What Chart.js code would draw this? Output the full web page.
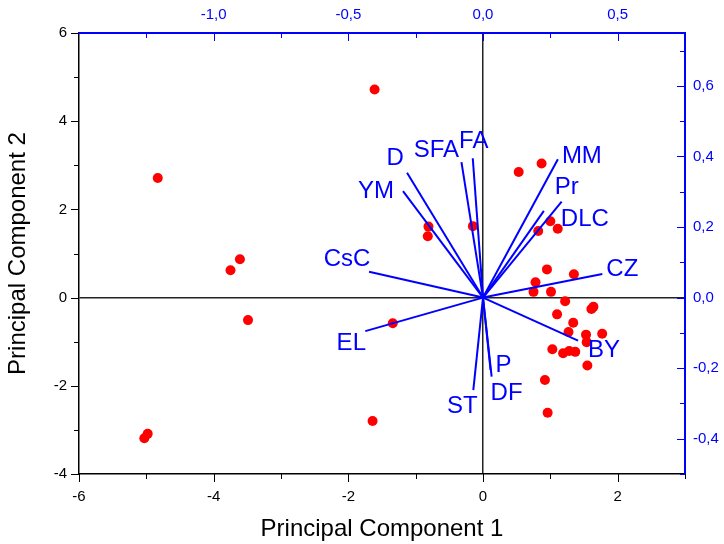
<!DOCTYPE html>
<html>
<head>
<meta charset="utf-8">
<script src="https://cdn.jsdelivr.net/npm/chart.js@4.4.1/dist/chart.umd.min.js"></script>
<style>
  html, body { margin: 0; padding: 0; background: #fff; }
</style>
</head>
<body>
<canvas id="biplot" width="724" height="544"></canvas>
<script>
// sample scores (PC1, PC2)
const pc1 = [-1.61, -4.83, -3.61, -3.75, -3.49, -1.34, -0.81, -0.82, -0.15, 0.53,
             0.87, 0.82, 1.00, 1.11, 0.95, 1.35, 0.78, 0.75, 1.01, 1.22,
             1.64, 1.61, 1.10, 1.34, 1.27, 1.53, 1.77, 1.54, 1.03, 1.19,
             1.28, 1.37, 1.55, 0.92, 0.96, -1.64, -5.03, -4.98];
const pc2 = [4.72, 2.71, 0.87, 0.62, -0.51, -0.58, 1.61, 1.39, 1.62, 2.85,
             3.04, 1.51, 1.73, 1.56, 0.64, 0.53, 0.35, 0.13, 0.13, -0.08,
             -0.21, -0.26, -0.38, -0.57, -0.78, -0.84, -0.82, -1.01, -1.17, -1.26,
             -1.21, -1.23, -1.54, -1.87, -2.61, -2.80, -3.19, -3.09];

// variable loadings (top / right axes)
const varNames = ['YM', 'D', 'SFA', 'FA', 'CsC', 'MM', 'Pr', 'DLC', 'CZ', 'BY', 'P', 'DF', 'ST', 'EL'];
const loadX = [-0.297, -0.282, -0.080, -0.038, -0.423, 0.278, 0.292, 0.226, 0.443, 0.353, 0.028, 0.032, -0.036, -0.437];
const loadY = [0.302, 0.354, 0.384, 0.395, 0.073, 0.392, 0.272, 0.246, 0.067, -0.122, -0.205, -0.224, -0.262, -0.095];

// tick labels
const pc1Ticks = [-6, -4, -2, 0, 2];
const pc2Ticks = [-4, -2, 0, 2, 4, 6];
const loadXTicks = [-1.0, -0.5, 0.0, 0.5];
const loadYTicks = [-0.4, -0.2, 0.0, 0.2, 0.4, 0.6];

const BLUE = '#0000ff';
const FONT = "'Liberation Sans', Arial, sans-serif";

// where each arrow label sits relative to its arrow tip (px)
const labelShift = {
  YM: [-27, 0], D: [-12, -14], SFA: [-25, -12], FA: [1, -17], CsC: [-22, -12],
  MM: [24, -3], Pr: [5, -14], DLC: [41, 9], CZ: [20, -5], BY: [26, 10],
  P: [13, -5], DF: [15, 17], ST: [-11, 16], EL: [-14, 12]
};

const setTicks = list => scale => { scale.ticks = list.map(v => ({ value: v })); };
const comma = v => Number(v).toFixed(1).replace('.', ',');

const vectorSets = varNames.map((name, i) => ({
  label: name,
  data: [{ x: 0, y: 0 }, { x: loadX[i], y: loadY[i] }],
  xAxisID: 'x2',
  yAxisID: 'y2',
  showLine: true,
  borderColor: BLUE,
  borderWidth: 2,
  pointRadius: 0,
  order: 0
}));

const arrowLabels = {
  id: 'arrowLabels',
  afterDatasetsDraw(chart) {
    const { ctx, scales } = chart;
    ctx.save();
    ctx.fillStyle = BLUE;
    ctx.font = '24px ' + FONT;
    ctx.textAlign = 'center';
    ctx.textBaseline = 'middle';
    varNames.forEach((name, i) => {
      const px = scales.x2.getPixelForValue(loadX[i]);
      const py = scales.y2.getPixelForValue(loadY[i]);
      const [dx, dy] = labelShift[name];
      ctx.fillText(name, px + dx, py + dy);
    });
    ctx.restore();
  }
};

// major + minor tick marks, outward on bottom/left, inward on top/right
const tickMarks = {
  id: 'tickMarks',
  afterDraw(chart) {
    const { ctx, chartArea: a, scales } = chart;
    ctx.save();
    ctx.lineWidth = 1;
    const run = (scale, from, to, step, majors, color, draw) => {
      ctx.strokeStyle = color;
      for (let v = from; v <= to + 1e-9; v += step) {
        const isMajor = majors.some(m => Math.abs(m - v) < 1e-6);
        const p = Math.round(scale.getPixelForValue(v)) + 0.5;
        draw(p, isMajor ? 8 : 5);
      }
    };
    run(scales.x, -6, 3, 1, pc1Ticks, '#000', (p, l) => {
      ctx.beginPath(); ctx.moveTo(p, a.bottom); ctx.lineTo(p, a.bottom + l); ctx.stroke();
    });
    run(scales.y, -4, 6, 1, pc2Ticks, '#000', (p, l) => {
      ctx.beginPath(); ctx.moveTo(a.left, p); ctx.lineTo(a.left - l, p); ctx.stroke();
    });
    run(scales.x2, -1.25, 0.75, 0.25, loadXTicks, BLUE, (p, l) => {
      ctx.beginPath(); ctx.moveTo(p, a.top); ctx.lineTo(p, a.top + l); ctx.stroke();
    });
    run(scales.y2, -0.5, 0.7, 0.1, loadYTicks, BLUE, (p, l) => {
      ctx.beginPath(); ctx.moveTo(a.right, p); ctx.lineTo(a.right - l, p); ctx.stroke();
    });
    ctx.restore();
  }
};

const zeroLine = ctx => (ctx.tick && ctx.tick.value === 0) ? '#222' : 'rgba(0,0,0,0)';

new Chart(document.getElementById('biplot'), {
  type: 'scatter',
  data: {
    datasets: [
      ...vectorSets,
      {
        label: 'Scores',
        data: pc1.map((x, i) => ({ x, y: pc2[i] })),
        xAxisID: 'x',
        yAxisID: 'y',
        backgroundColor: '#ff0000',
        borderWidth: 0,
        pointRadius: 5,
        order: 1
      }
    ]
  },
  options: {
    responsive: false,
    animation: false,
    devicePixelRatio: 1,
    layout: { padding: 0 },
    plugins: { legend: { display: false }, tooltip: { enabled: false } },
    scales: {
      x: {
        type: 'linear', position: 'bottom', min: -6, max: 3,
        afterBuildTicks: setTicks(pc1Ticks),
        afterFit: s => { s.height = 70; },
        grid: { color: zeroLine, lineWidth: 1.5, drawTicks: false },
        border: { color: '#000', width: 1.5 },
        ticks: { color: '#000', font: { family: FONT, size: 15 }, padding: 14 },
        title: { display: true, text: 'Principal Component 1', color: '#000',
                 font: { family: FONT, size: 24 }, padding: { top: 0, bottom: 0 } }
      },
      y: {
        type: 'linear', position: 'left', min: -4, max: 6,
        afterBuildTicks: setTicks(pc2Ticks),
        afterFit: s => { s.width = 79; },
        grid: { color: zeroLine, lineWidth: 1.5, drawTicks: false },
        border: { color: '#000', width: 1.5 },
        ticks: { color: '#000', font: { family: FONT, size: 15 }, padding: 12 },
        title: { display: true, text: 'Principal Component 2', color: '#000',
                 font: { family: FONT, size: 24 }, padding: { top: 4, bottom: 0 } }
      },
      x2: {
        type: 'linear', position: 'top', min: -1.5, max: 0.75,
        afterBuildTicks: setTicks(loadXTicks),
        afterFit: s => { s.height = 33; },
        grid: { display: false, drawTicks: false },
        border: { color: BLUE, width: 2 },
        ticks: { color: BLUE, font: { family: FONT, size: 15 }, padding: 9, callback: comma }
      },
      y2: {
        type: 'linear', position: 'right', min: -0.5, max: 0.75,
        afterBuildTicks: setTicks(loadYTicks),
        afterFit: s => { s.width = 39; },
        grid: { display: false, drawTicks: false },
        border: { color: BLUE, width: 2 },
        ticks: { color: BLUE, font: { family: FONT, size: 15 }, padding: 8, callback: comma }
      }
    }
  },
  plugins: [arrowLabels, tickMarks]
});
</script>
</body>
</html>
